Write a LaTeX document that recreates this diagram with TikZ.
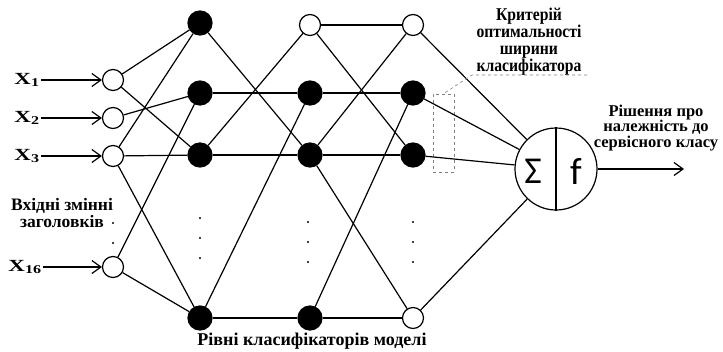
\documentclass[tikz,border=0pt]{standalone}
\usepackage{fontspec}
\setmainfont{Liberation Serif}
\newfontfamily\narrowfont{Liberation Serif}[FakeStretch=0.87]
\newfontfamily\widefont{Liberation Serif}[FakeStretch=1.35]
\newfontfamily\sumfont{Carlito}
\usetikzlibrary{arrows.meta}

\begin{document}
\begin{tikzpicture}[x=1pt, y=-1pt, line width=1.2pt,
    main/.style = {draw, circle, inner sep=0pt},
    full/.style = {main, fill=black, minimum size=24},
    empty/.style = {main, fill=white, minimum size=21},
    lbl/.style = {font=\bfseries\fontsize{18}{17}\selectfont, align=center, inner sep=0pt},
    xlbl/.style = {font=\widefont\bfseries\fontsize{17}{17}\selectfont, inner sep=1pt},
    lead/.style = {dashed, gray, line width=0.6pt},
    barb/.style = {-{Straight Barb[length=9pt,width=13pt]}}]
            \useasboundingbox (0,0) rectangle (723,351);

            \node[empty] (i1) at (113,80) {};
            \node[empty] (i2) at (113,118) {};
            \node[empty] (i3) at (113,156) {};
            \node[empty] (i16) at (113,267) {};

            \node[xlbl] (x1) at (27,80) {X\textsubscript{1}};
            \node[xlbl] (x2) at (27,118) {X\textsubscript{2}};
            \node[xlbl] (x3) at (27,156) {X\textsubscript{3}};
            \node[xlbl] (x16) at (25,267) {X\textsubscript{16}};

            \node[full] (a1) at (200,23) {};
            \node[full] (a2) at (200,93) {};
            \node[full] (a3) at (200,155) {};
            \node[full] (a4) at (200,318) {};

            \node[empty] (b1) at (310,25) {};
            \node[full] (b2) at (310,93) {};
            \node[full] (b3) at (310,155) {};
            \node[full] (b4) at (310,318) {};

            \node[empty] (c1) at (413,25) {};
            \node[full] (c2) at (413,93) {};
            \node[full] (c3) at (413,155) {};
            \node[empty] (c4) at (413,318) {};

            \node[main, minimum size=82] (s) at (556,169) {};
            \node[font=\sumfont\fontsize{38}{38}\selectfont] (sum) at (533,171) {Σ};
            \node[font=\sumfont\fontsize{38}{38}\selectfont] (fun) at (576,171) {f};
            \coordinate (out) at (684,169);

            \node[draw, lead, minimum width=21, minimum height=78] (box) at (443.5,133) {};

            \node[lbl, font=\narrowfont\bfseries\fontsize{18}{17}\selectfont] (crit) at (529,42) {Критерій\\оптимальності\\ширини\\класифікатора};
            \node[lbl, font=\bfseries\fontsize{16.5}{15.5}\selectfont] (dec) at (656,128) {Рішення про\\належність до\\сервісного класу};
            \node[lbl, font=\bfseries\fontsize{17.5}{17}\selectfont] (inp) at (62,213) {Вхідні змінні\\заголовків};
            \node[lbl] (lev) at (312,341) {Рівні класифікаторів моделі};

            \coordinate (u1) at (472,75);
            \coordinate (u2) at (587,75);

            \draw[barb] (x1) -- (i1);
            \draw[barb] (x2) -- (i2);
            \draw[barb] (x3) -- (i3);
            \draw[barb] (x16) -- (i16);

            \draw (i1) -- (a1);
            \draw (i1) -- (a3);
            \draw (i2) -- (a2);
            \draw (i3) -- (a1);
            \draw (i3) -- (a3);
            \draw (i3) -- (a4);
            \draw (i16) -- (a2);
            \draw (i16) -- (a4);

            \draw (a1) -- (b3);
            \draw (a2) -- (b2);
            \draw (a3) -- (b1);
            \draw (a3) -- (b3);
            \draw (a4) -- (b2);
            \draw (a4) -- (b4);

            \draw (b1) -- (c1);
            \draw (b1) -- (c3);
            \draw (b2) -- (c2);
            \draw (b3) -- (c1);
            \draw (b3) -- (c3);
            \draw (b3) -- (c4);
            \draw (b4) -- (c2);
            \draw (b4) -- (c4);

            \draw (c1) -- (s);
            \draw (c2) -- (s);
            \draw (c3) -- (s);
            \draw (c4) -- (s);
            \draw (s.north) -- (s.south);
            \draw[barb] (s) -- (out);

            \draw[lead] (u2) -- (u1) -- (box.north);

            \fill (113,223) circle (1.2);
            \fill (113,243) circle (1.2);
            \fill (200,218) circle (1.2);
            \fill (200,238) circle (1.2);
            \fill (200,258) circle (1.2);
            \fill (308,222) circle (1.2);
            \fill (308,242) circle (1.2);
            \fill (308,262) circle (1.2);
            \fill (413,222) circle (1.2);
            \fill (413,242) circle (1.2);
            \fill (413,262) circle (1.2);

        \end{tikzpicture}
\end{document}
